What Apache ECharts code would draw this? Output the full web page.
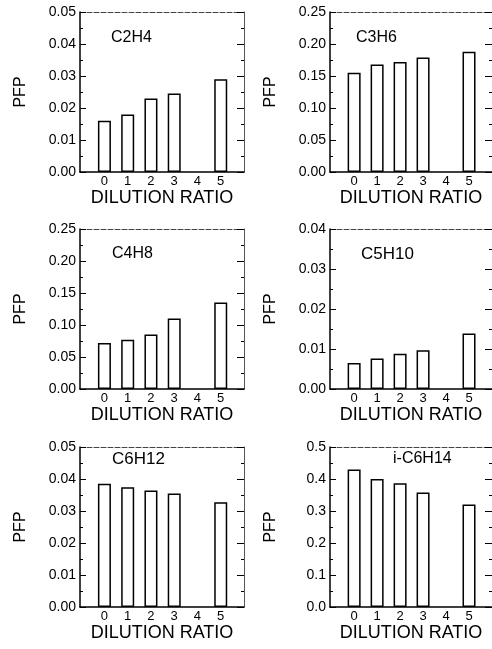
<!DOCTYPE html>
<html>
<head>
<meta charset="utf-8">
<script src="https://cdn.jsdelivr.net/npm/echarts@6/dist/echarts.min.js"></script>
<style>
  html, body { margin: 0; padding: 0; background: #fff; }
  #chart { width: 492px; height: 649px; }
</style>
</head>
<body>
<div id="chart"></div>
<script>
// dilution ratios (nothing measured at 4)
const ratios = [0, 1, 2, 3, 4, 5];

// PFP per gas
const c2h4 = [0.016, 0.018, 0.023, 0.0245, null, 0.029];
const c3h6 = [0.155, 0.168, 0.172, 0.179, null, 0.188];
const c4h8 = [0.072, 0.077, 0.085, 0.110, null, 0.135];
const c5h10 = [0.0065, 0.0076, 0.0088, 0.0097, null, 0.0139];
const c6h12 = [0.0385, 0.0374, 0.0364, 0.0355, null, 0.0327];
const ic6h14 = [0.43, 0.40, 0.387, 0.358, null, 0.32];

const gasNames = ['C2H4', 'C3H6', 'C4H8', 'C5H10', 'C6H12', 'i-C6H14'];
const gasValues = [c2h4, c3h6, c4h8, c5h10, c6h12, ic6h14];

// y scale of every panel
const yMax = [0.05, 0.25, 0.25, 0.04, 0.05, 0.5];
const yStep = [0.01, 0.05, 0.05, 0.01, 0.01, 0.1];
const yDigits = [2, 2, 2, 2, 2, 1];

// panel placement
const panels = [
  { left: 80, top: 12, tx: 111, ty: 30, ts: 16 },
  { left: 330, top: 12, tx: 356, ty: 30, ts: 16 },
  { left: 80, top: 229, tx: 112, ty: 246, ts: 16 },
  { left: 330, top: 229, tx: 361, ty: 246, ts: 17 },
  { left: 80, top: 447, tx: 112, ty: 451, ts: 17 },
  { left: 330, top: 447, tx: 393, ty: 451, ts: 16 },
];

const font = 'Liberation Sans, Arial, Helvetica, sans-serif';
const xMin = -1.05;
const xMax = 6;

const chart = echarts.init(document.getElementById('chart'));

const grid = [];
const xAxis = [];
const yAxis = [];
const series = [];
const title = [];

panels.forEach((p, i) => {
  grid.push({ left: p.left, top: p.top, width: 164, height: 160 });

  // bottom axis, carries the bars
  xAxis.push({
    gridIndex: i,
    type: 'value',
    min: xMin,
    max: xMax,
    axisLine: { show: true, onZero: false, lineStyle: { color: '#000', width: 1.5 } },
    axisTick: { show: false },
    splitLine: { show: false },
    axisLabel: {
      customValues: ratios,
      margin: 3,
      fontSize: 13,
      color: '#000',
      fontFamily: font,
    },
    name: 'DILUTION RATIO',
    nameLocation: 'middle',
    nameGap: 16,
    nameTextStyle: { fontSize: 18, color: '#000', fontFamily: font },
  });
  // top border
  xAxis.push({
    gridIndex: i,
    type: 'value',
    position: 'top',
    min: xMin,
    max: xMax,
    axisLine: { show: true, onZero: false, lineStyle: { color: '#444', width: 1, type: [5, 2] } },
    axisTick: { show: false },
    axisLabel: { show: false },
    splitLine: { show: false },
  });

  // left axis with labels
  yAxis.push({
    gridIndex: i,
    type: 'value',
    min: 0,
    max: yMax[i],
    interval: yStep[i],
    axisLine: { show: true, onZero: false, lineStyle: { color: '#000', width: 1.5 } },
    axisTick: { show: true, inside: true, length: 6, lineStyle: { color: '#000' } },
    minorTick: { show: true, splitNumber: 2, length: 3, lineStyle: { color: '#000' } },
    splitLine: { show: false },
    axisLabel: {
      formatter: (v) => v.toFixed(yDigits[i]),
      margin: 4,
      fontSize: 14,
      color: '#000',
      fontFamily: font,
    },
    name: 'PFP',
    nameLocation: 'middle',
    nameGap: 51,
    nameTextStyle: { fontSize: 16, color: '#000', fontFamily: font },
  });
  // right border with inside ticks
  yAxis.push({
    gridIndex: i,
    type: 'value',
    position: 'right',
    min: 0,
    max: yMax[i],
    interval: yStep[i],
    axisLine: { show: true, onZero: false, lineStyle: { color: '#555', width: 1 } },
    axisTick: { show: true, inside: true, length: 7, lineStyle: { color: '#000' } },
    minorTick: { show: true, splitNumber: 2, length: 3, lineStyle: { color: '#000' } },
    splitLine: { show: false },
    axisLabel: { show: false },
  });

  series.push({
    type: 'bar',
    xAxisIndex: 2 * i,
    yAxisIndex: 2 * i,
    barWidth: 13,
    silent: true,
    itemStyle: { color: '#fff', borderColor: '#000', borderWidth: 1.5 },
    data: ratios
      .map((r, k) => [r, gasValues[i][k]])
      .filter((d) => d[1] != null),
  });

  title.push({
    text: gasNames[i],
    left: p.tx,
    top: p.ty,
    padding: 0,
    textStyle: { fontSize: p.ts, fontWeight: 'normal', color: '#000', fontFamily: font },
  });
});

chart.setOption({
  animation: false,
  backgroundColor: '#fff',
  title,
  grid,
  xAxis,
  yAxis,
  series,
});
</script>
</body>
</html>
